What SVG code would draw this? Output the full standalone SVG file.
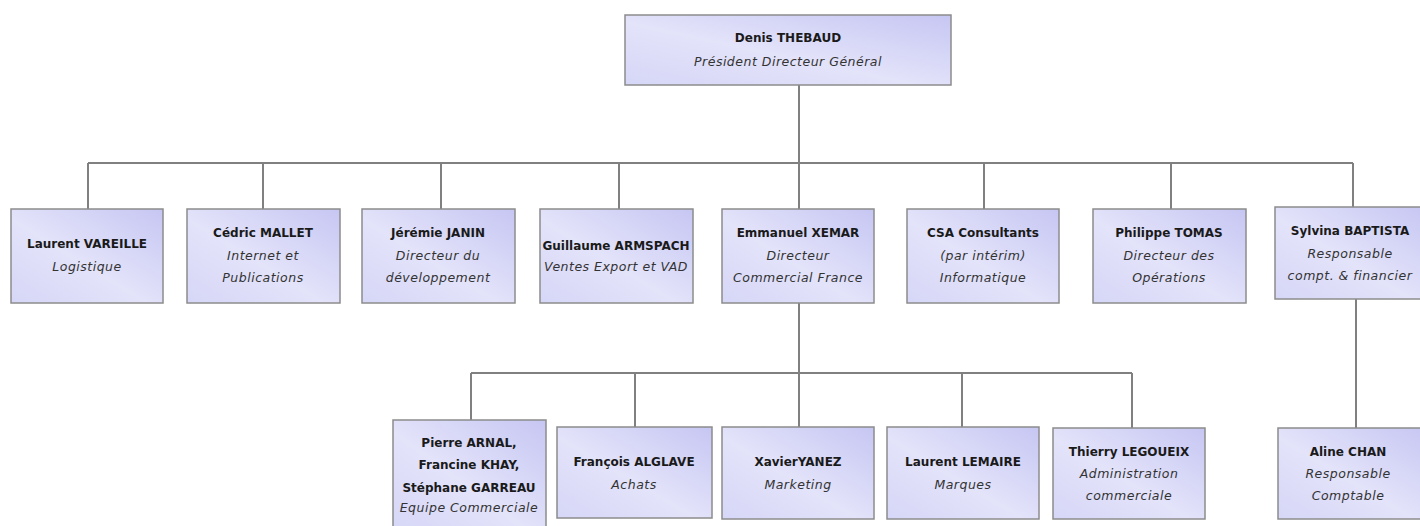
<svg xmlns="http://www.w3.org/2000/svg" width="1420" height="526" viewBox="0 0 1420 526">
<defs>
<linearGradient id="g" x1="0" y1="1" x2="1" y2="0">
<stop offset="0" stop-color="#d6d6f7"/>
<stop offset="0.45" stop-color="#e3e3fa"/>
<stop offset="1" stop-color="#c6c6f3"/>
</linearGradient>
<style>
.box{fill:url(#g);stroke:#8c8c8c;stroke-width:1.5}
.n{font-family:"DejaVu Sans",Verdana,sans-serif;font-weight:bold;font-size:12px;fill:#1a1a1a;text-anchor:middle}
.r{font-family:"DejaVu Sans",Verdana,sans-serif;font-style:italic;font-size:12.5px;letter-spacing:0.5px;fill:#333;text-anchor:middle}
.c{fill:none;stroke:#808080;stroke-width:2}
</style>
</defs>
<rect width="1420" height="526" fill="#fff"/>
<g id="connectors" class="c">
<path d="M799 85V163M88 163H1353"/>
<path d="M88 163V209M263 163V209M441 163V209M619 163V209M799 163V209M984 163V209M1171 163V209M1353 163V207"/>
<path d="M799 303V373M471 373H1132"/>
<path d="M471 373V420M635 373V427M799 373V427M962 373V427M1132 373V428"/>
<path d="M1356 299V428"/>
</g>
<g id="n-thebaud"><rect class="box" x="625" y="15" width="326" height="70"/><text class="n" x="788" y="42">Denis THEBAUD</text><text class="r" x="788" y="66">Président Directeur Général</text></g>
<g id="n-vareille"><rect class="box" x="11" y="209" width="152" height="94"/><text class="n" x="87" y="248">Laurent VAREILLE</text><text class="r" x="87" y="271">Logistique</text></g>
<g id="n-mallet"><rect class="box" x="187" y="209" width="153" height="94"/><text class="n" x="263" y="237">Cédric MALLET</text><text class="r" x="263" y="260">Internet et</text><text class="r" x="263" y="282">Publications</text></g>
<g id="n-janin"><rect class="box" x="362" y="209" width="153" height="94"/><text class="n" x="438" y="237">Jérémie JANIN</text><text class="r" x="438" y="260">Directeur du</text><text class="r" x="438" y="282">développement</text></g>
<g id="n-armspach"><rect class="box" x="540" y="209" width="153" height="94"/><text class="n" x="616" y="250">Guillaume ARMSPACH</text><text class="r" x="616" y="271">Ventes Export et VAD</text></g>
<g id="n-xemar"><rect class="box" x="722" y="209" width="152" height="94"/><text class="n" x="798" y="237">Emmanuel XEMAR</text><text class="r" x="798" y="260">Directeur</text><text class="r" x="798" y="282">Commercial France</text></g>
<g id="n-csa"><rect class="box" x="907" y="209" width="152" height="94"/><text class="n" x="983" y="237">CSA Consultants</text><text class="r" x="983" y="260">(par intérim)</text><text class="r" x="983" y="282">Informatique</text></g>
<g id="n-tomas"><rect class="box" x="1093" y="209" width="153" height="94"/><text class="n" x="1169" y="237">Philippe TOMAS</text><text class="r" x="1169" y="260">Directeur des</text><text class="r" x="1169" y="282">Opérations</text></g>
<g id="n-baptista"><rect class="box" x="1275" y="207" width="152" height="92"/><text class="n" x="1350" y="235">Sylvina BAPTISTA</text><text class="r" x="1350" y="258">Responsable</text><text class="r" x="1350" y="280">compt. &amp; financier</text></g>
<g id="n-equipe"><rect class="box" x="393" y="420" width="153" height="112"/><text class="n" x="469" y="447">Pierre ARNAL,</text><text class="n" x="469" y="469">Francine KHAY,</text><text class="n" x="469" y="492">Stéphane GARREAU</text><text class="r" x="469" y="512">Equipe Commerciale</text></g>
<g id="n-alglave"><rect class="box" x="557" y="427" width="155" height="91"/><text class="n" x="634" y="466">François ALGLAVE</text><text class="r" x="634" y="489">Achats</text></g>
<g id="n-yanez"><rect class="box" x="722" y="427" width="152" height="92"/><text class="n" x="798" y="466">XavierYANEZ</text><text class="r" x="798" y="489">Marketing</text></g>
<g id="n-lemaire"><rect class="box" x="887" y="427" width="152" height="92"/><text class="n" x="963" y="466">Laurent LEMAIRE</text><text class="r" x="963" y="489">Marques</text></g>
<g id="n-legoueix"><rect class="box" x="1053" y="428" width="152" height="91"/><text class="n" x="1129" y="456">Thierry LEGOUEIX</text><text class="r" x="1129" y="478">Administration</text><text class="r" x="1129" y="500">commerciale</text></g>
<g id="n-chan"><rect class="box" x="1278" y="428" width="152" height="91"/><text class="n" x="1348" y="456">Aline CHAN</text><text class="r" x="1348" y="478">Responsable</text><text class="r" x="1348" y="500">Comptable</text></g>
</svg>
